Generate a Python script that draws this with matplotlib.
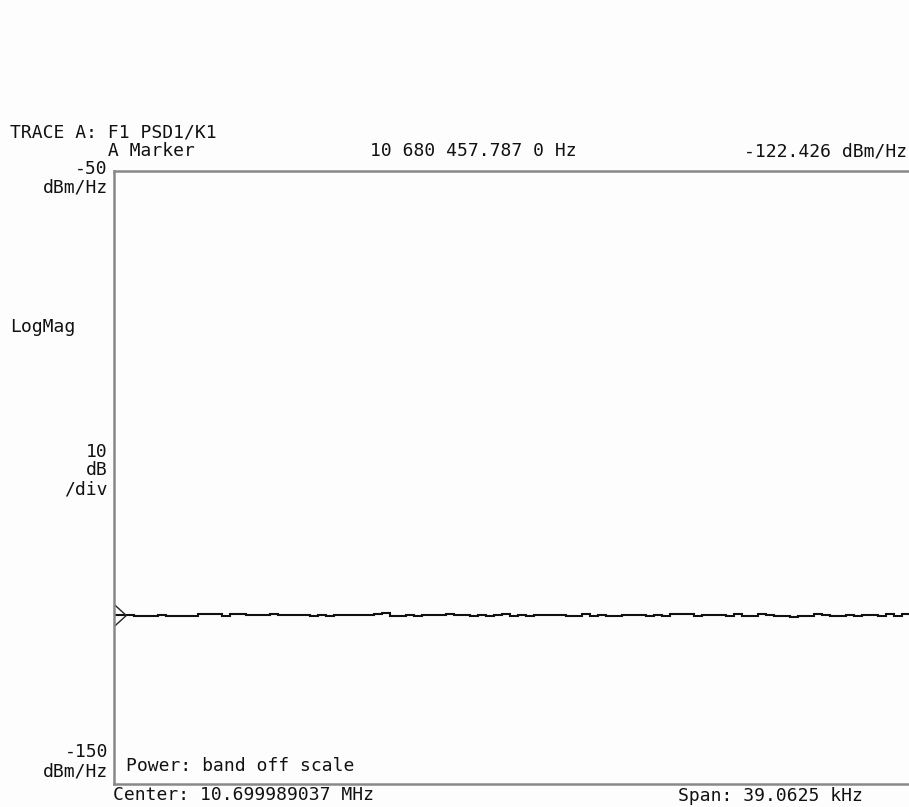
import numpy as np
import matplotlib
matplotlib.use("Agg")
import matplotlib.pyplot as plt
from matplotlib.path import Path

# ---- data ----
center_hz = 10.699989037e6
span_hz = 39.0625e3
y_top, y_bottom = -50, -150
marker_freq_label = "10 680 457.787 0 Hz"
marker_value_label = "-122.426 dBm/Hz"

trace_dbm = [
    -122.5, -122.5, -122.5, -122.7, -122.6, -122.7, -122.5, -122.7, -122.6, -122.7,
    -122.6, -122.3, -122.4, -122.3, -122.6, -122.4, -122.3, -122.5, -122.5, -122.5,
    -122.4, -122.5, -122.5, -122.5, -122.5, -122.6, -122.5, -122.7, -122.5, -122.5,
    -122.5, -122.5, -122.5, -122.3, -122.2, -122.6, -122.7, -122.5, -122.6, -122.5,
    -122.5, -122.5, -122.4, -122.5, -122.5, -122.7, -122.5, -122.7, -122.5, -122.4,
    -122.7, -122.5, -122.7, -122.5, -122.5, -122.5, -122.5, -122.7, -122.6, -122.3,
    -122.6, -122.5, -122.7, -122.7, -122.5, -122.5, -122.5, -122.7, -122.5, -122.6,
    -122.4, -122.3, -122.4, -122.6, -122.5, -122.5, -122.5, -122.7, -122.4, -122.7,
    -122.6, -122.3, -122.5, -122.7, -122.7, -122.8, -122.7, -122.6, -122.4, -122.5,
    -122.7, -122.6, -122.5, -122.7, -122.5, -122.5, -122.7, -122.4, -122.6, -122.4,
    -122.5,
]

W, H = 909, 807
fig = plt.figure(figsize=(W / 100, H / 100), dpi=100, facecolor="#fdfdfd")

def fx(px):
    return px / W

def fy(py):
    return 1 - py / H

left_px, top_px, bottom_px, right_px = 113.5, 170.5, 783.5, 913.5
ax = fig.add_axes([fx(left_px), fy(bottom_px), fx(right_px - left_px), (bottom_px - top_px) / H])
ax.set_facecolor("#fdfdfd")

freqs = np.linspace(center_hz - span_hz / 2, center_hz + span_hz / 2, len(trace_dbm))
ax.plot(freqs, trace_dbm, color="#111111", lw=1.5, drawstyle="steps-mid", solid_joinstyle="miter")
ax.set_xlim(freqs[0], freqs[-1])
ax.set_ylim(y_bottom, y_top)

# marker triangle at the left edge
tri = Path([(0, -0.5), (0.55, 0), (0, 0.5)], [Path.MOVETO, Path.LINETO, Path.LINETO])
ax.plot([freqs[0]], [trace_dbm[0]], marker=tri, markersize=17, markerfacecolor="none",
        markeredgecolor="#222222", markeredgewidth=1.0, clip_on=False, ls="none")

ax.set_xticks([])
ax.set_yticks([])
for s in ["left", "top", "bottom"]:
    ax.spines[s].set_color("#888888")
    ax.spines[s].set_linewidth(1.8)
ax.spines["right"].set_visible(False)

font = dict(family="DejaVu Sans Mono", fontsize=13, color="#111111", linespacing=1.04)

def t(px, py, s, ha="left"):
    # py is the baseline of the last line
    fig.text(fx(px), fy(py), s, ha=ha, va="baseline", multialignment=ha, **font)

t(10, 156.5, "TRACE A: F1 PSD1/K1\n         A Marker")
t(370, 156.5, marker_freq_label)
t(907, 156.5, marker_value_label, ha="right")
t(108, 193, "-50\ndBm/Hz", ha="right")
t(10, 332, "LogMag")
t(108, 494, "10\ndB\n/div", ha="right")
t(108, 776, "-150\ndBm/Hz", ha="right")
t(126, 771, "Power: band off scale")
t(113, 800, "Center: 10.699989037 MHz")
t(678, 801, "Span: 39.0625 kHz")

fig.savefig("out.png", dpi=100, facecolor=fig.get_facecolor())
